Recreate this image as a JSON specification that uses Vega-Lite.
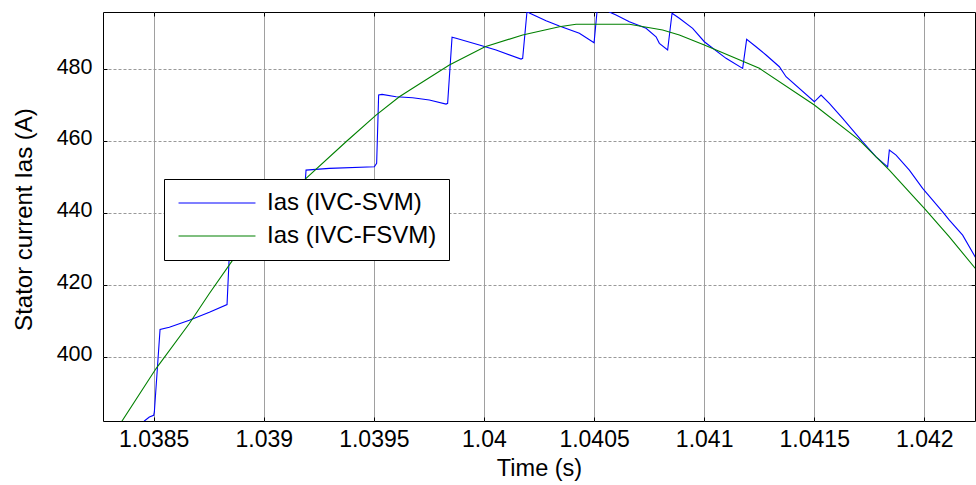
{
  "$schema": "https://vega.github.io/schema/vega-lite/v6.json",
  "width": 872,
  "height": 409,
  "autosize": {"type": "none"},
  "padding": {"left": 103, "top": 12, "right": 1, "bottom": 64},
  "background": "white",
  "config": {
    "font": "Liberation Sans",
    "view": {"stroke": "black", "strokeWidth": 1},
    "axis": {"labelColor": "black", "titleColor": "black", "tickColor": "black", "titleFontWeight": "normal", "domain": false}
  },
  "data": {
    "values": [
      {"s": "Ias (IVC-SVM)", "t": 1.038426, "v": 379.48},
      {"s": "Ias (IVC-SVM)", "t": 1.038458, "v": 382.07},
      {"s": "Ias (IVC-SVM)", "t": 1.0384805, "v": 383.19},
      {"s": "Ias (IVC-SVM)", "t": 1.0385, "v": 383.66},
      {"s": "Ias (IVC-SVM)", "t": 1.0385032, "v": 384.58},
      {"s": "Ias (IVC-SVM)", "t": 1.0385291, "v": 407.52},
      {"s": "Ias (IVC-SVM)", "t": 1.0385713, "v": 408.16},
      {"s": "Ias (IVC-SVM)", "t": 1.0386621, "v": 410.11},
      {"s": "Ias (IVC-SVM)", "t": 1.038753, "v": 412.34},
      {"s": "Ias (IVC-SVM)", "t": 1.0388333, "v": 414.48},
      {"s": "Ias (IVC-SVM)", "t": 1.0388483, "v": 434.61},
      {"s": "Ias (IVC-SVM)", "t": 1.03898, "v": 435.73},
      {"s": "Ias (IVC-SVM)", "t": 1.0391753, "v": 437.4},
      {"s": "Ias (IVC-SVM)", "t": 1.0391921, "v": 451.88},
      {"s": "Ias (IVC-SVM)", "t": 1.0392979, "v": 452.35},
      {"s": "Ias (IVC-SVM)", "t": 1.0395023, "v": 452.8},
      {"s": "Ias (IVC-SVM)", "t": 1.0395127, "v": 453.74},
      {"s": "Ias (IVC-SVM)", "t": 1.0395218, "v": 472.76},
      {"s": "Ias (IVC-SVM)", "t": 1.0395372, "v": 472.96},
      {"s": "Ias (IVC-SVM)", "t": 1.0396008, "v": 472.29},
      {"s": "Ias (IVC-SVM)", "t": 1.0396762, "v": 472.01},
      {"s": "Ias (IVC-SVM)", "t": 1.039752, "v": 471.37},
      {"s": "Ias (IVC-SVM)", "t": 1.0398279, "v": 470.25},
      {"s": "Ias (IVC-SVM)", "t": 1.0398351, "v": 470.45},
      {"s": "Ias (IVC-SVM)", "t": 1.0398551, "v": 488.83},
      {"s": "Ias (IVC-SVM)", "t": 1.0398733, "v": 488.55},
      {"s": "Ias (IVC-SVM)", "t": 1.0399791, "v": 486.68},
      {"s": "Ias (IVC-SVM)", "t": 1.040055, "v": 485.29},
      {"s": "Ias (IVC-SVM)", "t": 1.0401685, "v": 482.78},
      {"s": "Ias (IVC-SVM)", "t": 1.0401758, "v": 482.98},
      {"s": "Ias (IVC-SVM)", "t": 1.0401957, "v": 496.15},
      {"s": "Ias (IVC-SVM)", "t": 1.0402062, "v": 495.59},
      {"s": "Ias (IVC-SVM)", "t": 1.040282, "v": 493.45},
      {"s": "Ias (IVC-SVM)", "t": 1.0403424, "v": 491.97},
      {"s": "Ias (IVC-SVM)", "t": 1.0404333, "v": 489.94},
      {"s": "Ias (IVC-SVM)", "t": 1.0405001, "v": 487.32},
      {"s": "Ias (IVC-SVM)", "t": 1.040515, "v": 496.98},
      {"s": "Ias (IVC-SVM)", "t": 1.0405377, "v": 497.82},
      {"s": "Ias (IVC-SVM)", "t": 1.0405695, "v": 495.87},
      {"s": "Ias (IVC-SVM)", "t": 1.0405999, "v": 495.04},
      {"s": "Ias (IVC-SVM)", "t": 1.0406603, "v": 493.17},
      {"s": "Ias (IVC-SVM)", "t": 1.0407362, "v": 491.33},
      {"s": "Ias (IVC-SVM)", "t": 1.0407816, "v": 488.99},
      {"s": "Ias (IVC-SVM)", "t": 1.0407966, "v": 487.16},
      {"s": "Ias (IVC-SVM)", "t": 1.0408342, "v": 485.29},
      {"s": "Ias (IVC-SVM)", "t": 1.0408542, "v": 495.51},
      {"s": "Ias (IVC-SVM)", "t": 1.0408874, "v": 494.12},
      {"s": "Ias (IVC-SVM)", "t": 1.0409478, "v": 491.33},
      {"s": "Ias (IVC-SVM)", "t": 1.0410009, "v": 487.6},
      {"s": "Ias (IVC-SVM)", "t": 1.0410995, "v": 482.98},
      {"s": "Ias (IVC-SVM)", "t": 1.0411749, "v": 480.19},
      {"s": "Ias (IVC-SVM)", "t": 1.041193, "v": 488.27},
      {"s": "Ias (IVC-SVM)", "t": 1.0412357, "v": 486.21},
      {"s": "Ias (IVC-SVM)", "t": 1.0412811, "v": 483.9},
      {"s": "Ias (IVC-SVM)", "t": 1.0413415, "v": 480.64},
      {"s": "Ias (IVC-SVM)", "t": 1.0413719, "v": 477.86},
      {"s": "Ias (IVC-SVM)", "t": 1.0415004, "v": 470.89},
      {"s": "Ias (IVC-SVM)", "t": 1.0415309, "v": 472.76},
      {"s": "Ias (IVC-SVM)", "t": 1.0415686, "v": 470.45},
      {"s": "Ias (IVC-SVM)", "t": 1.041629, "v": 466.27},
      {"s": "Ias (IVC-SVM)", "t": 1.0417198, "v": 459.76},
      {"s": "Ias (IVC-SVM)", "t": 1.0417807, "v": 455.58},
      {"s": "Ias (IVC-SVM)", "t": 1.0418333, "v": 452.8},
      {"s": "Ias (IVC-SVM)", "t": 1.041841, "v": 457.45},
      {"s": "Ias (IVC-SVM)", "t": 1.0418715, "v": 456.05},
      {"s": "Ias (IVC-SVM)", "t": 1.0419319, "v": 451.88},
      {"s": "Ias (IVC-SVM)", "t": 1.0419922, "v": 446.78},
      {"s": "Ias (IVC-SVM)", "t": 1.0420377, "v": 443.52},
      {"s": "Ias (IVC-SVM)", "t": 1.0420831, "v": 440.27},
      {"s": "Ias (IVC-SVM)", "t": 1.0421135, "v": 437.96},
      {"s": "Ias (IVC-SVM)", "t": 1.0421739, "v": 433.78},
      {"s": "Ias (IVC-SVM)", "t": 1.0422316, "v": 427.65},
      {"s": "Ias (IVC-FSVM)", "t": 1.0383351, "v": 379.48},
      {"s": "Ias (IVC-FSVM)", "t": 1.0383565, "v": 382.07},
      {"s": "Ias (IVC-FSVM)", "t": 1.0385109, "v": 396.66},
      {"s": "Ias (IVC-FSVM)", "t": 1.0386621, "v": 409.19},
      {"s": "Ias (IVC-FSVM)", "t": 1.038753, "v": 417.55},
      {"s": "Ias (IVC-FSVM)", "t": 1.0388588, "v": 426.82},
      {"s": "Ias (IVC-FSVM)", "t": 1.0390254, "v": 438.51},
      {"s": "Ias (IVC-FSVM)", "t": 1.0391921, "v": 449.57},
      {"s": "Ias (IVC-FSVM)", "t": 1.0393737, "v": 459.76},
      {"s": "Ias (IVC-FSVM)", "t": 1.03951, "v": 467.19},
      {"s": "Ias (IVC-FSVM)", "t": 1.0396158, "v": 472.29},
      {"s": "Ias (IVC-FSVM)", "t": 1.0396762, "v": 474.63},
      {"s": "Ias (IVC-FSVM)", "t": 1.0398429, "v": 481.11},
      {"s": "Ias (IVC-FSVM)", "t": 1.040005, "v": 486.21},
      {"s": "Ias (IVC-FSVM)", "t": 1.0401758, "v": 489.47},
      {"s": "Ias (IVC-FSVM)", "t": 1.0403424, "v": 491.78},
      {"s": "Ias (IVC-FSVM)", "t": 1.0404183, "v": 492.45},
      {"s": "Ias (IVC-FSVM)", "t": 1.0406603, "v": 492.45},
      {"s": "Ias (IVC-FSVM)", "t": 1.0408115, "v": 490.86},
      {"s": "Ias (IVC-FSVM)", "t": 1.0408874, "v": 489.47},
      {"s": "Ias (IVC-FSVM)", "t": 1.0410009, "v": 486.68},
      {"s": "Ias (IVC-FSVM)", "t": 1.0412507, "v": 480.19},
      {"s": "Ias (IVC-FSVM)", "t": 1.0415004, "v": 469.98},
      {"s": "Ias (IVC-FSVM)", "t": 1.0417048, "v": 460.23},
      {"s": "Ias (IVC-FSVM)", "t": 1.041841, "v": 451.88},
      {"s": "Ias (IVC-FSVM)", "t": 1.0419623, "v": 443.72},
      {"s": "Ias (IVC-FSVM)", "t": 1.042, "v": 441.21},
      {"s": "Ias (IVC-FSVM)", "t": 1.0421135, "v": 433.31},
      {"s": "Ias (IVC-FSVM)", "t": 1.0422316, "v": 424.51}
    ]
  },
  "resolve": {"axis": {"x": "independent", "y": "independent"}},
  "layer": [
    {
      "mark": {"type": "line", "clip": true, "strokeWidth": 1.1},
      "encoding": {
        "x": {
          "field": "t", "type": "quantitative",
          "scale": {"domain": [1.03827, 1.04223], "nice": false, "zero": false},
          "axis": {
            "orient": "bottom", "title": "Time (s)",
            "values": [1.0385, 1.039, 1.0395, 1.04, 1.0405, 1.041, 1.0415, 1.042],
            "labelExpr": "format(datum.value, '.6~g')",
            "labelFontSize": 23, "labelPadding": 11, "tickSize": -4,
            "titleFontSize": 23.5, "titleBaseline": "alphabetic", "titleY": 54.5,
            "grid": true, "gridColor": "#a0a0a0", "gridWidth": 1
          }
        },
        "y": {
          "field": "v", "type": "quantitative",
          "scale": {"domain": [382.07, 495.87], "nice": false, "zero": false},
          "axis": {
            "orient": "left", "title": "Stator current Ias (A)",
            "values": [400, 420, 440, 460, 480],
            "labelFontSize": 21.5, "labelPadding": 15, "tickSize": -4, "labelOffset": -2,
            "titleFontSize": 24, "titleAngle": -90, "titleBaseline": "alphabetic",
            "titleX": -72, "titleY": 207, "titleAlign": "center",
            "grid": true, "gridColor": "#999999", "gridWidth": 1, "gridDash": [3, 2]
          }
        },
        "color": {
          "field": "s", "type": "nominal",
          "scale": {"domain": ["Ias (IVC-SVM)", "Ias (IVC-FSVM)"], "range": ["#0000ff", "#008000"]},
          "legend": {
            "orient": "none", "legendX": 61, "legendY": 167, "title": null,
            "symbolType": "M-4,0H4", "symbolSize": 370, "symbolStrokeWidth": 1.1,
            "symbolOffset": 29, "labelOffset": 38, "labelLimit": 400,
            "labelFontSize": 24, "labelFont": "Liberation Sans", "labelColor": "black",
            "padding": 12, "rowPadding": 9,
            "fillColor": "white", "strokeColor": "black"
          }
        }
      }
    },
    {
      "mark": {"type": "line", "opacity": 0, "clip": true},
      "encoding": {
        "x": {
          "field": "t", "type": "quantitative",
          "scale": {"domain": [1.03827, 1.04223], "nice": false, "zero": false},
          "axis": {
            "orient": "top", "title": null, "labels": false, "grid": false,
            "values": [1.0385, 1.039, 1.0395, 1.04, 1.0405, 1.041, 1.0415, 1.042],
            "tickSize": -4
          }
        },
        "y": {
          "field": "v", "type": "quantitative",
          "scale": {"domain": [382.07, 495.87], "nice": false, "zero": false},
          "axis": {
            "orient": "right", "title": null, "labels": false, "grid": false,
            "values": [400, 420, 440, 460, 480],
            "tickSize": -4
          }
        },
        "detail": {"field": "s", "type": "nominal"}
      }
    }
  ]
}
